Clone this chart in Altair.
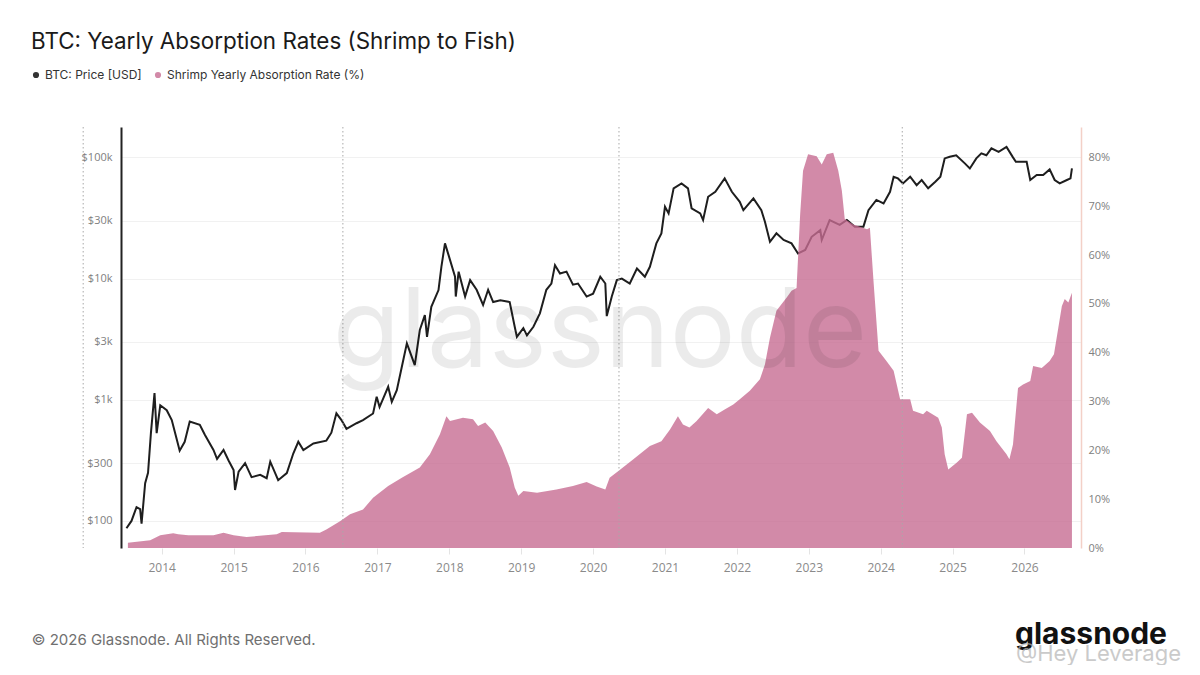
import altair as alt
import pandas as pd

# ---------------- data ----------------
price_year = [2013.51, 2013.58, 2013.65, 2013.70, 2013.72, 2013.77, 2013.81, 2013.85, 2013.90, 2013.93,
              2013.98, 2014.07, 2014.14, 2014.21, 2014.25, 2014.32, 2014.39, 2014.53, 2014.60, 2014.72,
              2014.77, 2014.86, 2014.93, 2015.00, 2015.02, 2015.07, 2015.16, 2015.25, 2015.37, 2015.46,
              2015.51, 2015.62, 2015.74, 2015.83, 2015.90, 2015.97, 2016.11, 2016.29, 2016.36, 2016.43,
              2016.50, 2016.57, 2016.71, 2016.80, 2016.94, 2016.99, 2017.03, 2017.15, 2017.20, 2017.27,
              2017.34, 2017.41, 2017.52, 2017.59, 2017.66, 2017.69, 2017.75, 2017.85, 2017.89, 2017.94,
              2017.99, 2018.08, 2018.09, 2018.13, 2018.22, 2018.29, 2018.38, 2018.47, 2018.54, 2018.61,
              2018.71, 2018.84, 2018.91, 2018.94, 2019.03, 2019.08, 2019.17, 2019.26, 2019.35, 2019.42,
              2019.47, 2019.54, 2019.63, 2019.72, 2019.79, 2019.91, 2020.00, 2020.10, 2020.17, 2020.19,
              2020.26, 2020.33, 2020.40, 2020.51, 2020.61, 2020.72, 2020.79, 2020.88, 2020.95, 2021.00,
              2021.05, 2021.12, 2021.23, 2021.32, 2021.37, 2021.49, 2021.53, 2021.60, 2021.70, 2021.83,
              2021.93, 2022.04, 2022.09, 2022.23, 2022.34, 2022.39, 2022.46, 2022.55, 2022.65, 2022.76,
              2022.85, 2022.95, 2023.04, 2023.16, 2023.18, 2023.29, 2023.43, 2023.53, 2023.64, 2023.76,
              2023.83, 2023.94, 2024.04, 2024.13, 2024.18, 2024.24, 2024.31, 2024.41, 2024.50, 2024.57,
              2024.66, 2024.76, 2024.83, 2024.89, 2024.96, 2025.05, 2025.17, 2025.24, 2025.33, 2025.40,
              2025.47, 2025.54, 2025.64, 2025.75, 2025.84, 2025.88, 2026.03, 2026.08, 2026.17, 2026.26,
              2026.35, 2026.42, 2026.49, 2026.59, 2026.64, 2026.66]
price_usd = [87, 100, 130, 125, 95, 205, 250, 530, 1135, 530,
             900, 820, 680, 470, 380, 450, 660, 620, 515, 385,
             325, 385, 315, 263, 180, 255, 300, 230, 240, 225,
             308, 217, 248, 360, 450, 385, 436, 460, 535, 772,
             680, 575, 640, 680, 770, 1060, 870, 1280, 960, 1200,
             1870, 2920, 1930, 3760, 4990, 3300, 5850, 8040, 12500, 19500,
             15600, 10350, 7100, 11400, 7100, 9700, 8080, 6050, 8080, 6400,
             6630, 6400, 4000, 3300, 3900, 3400, 4000, 5160, 8080, 9100,
             12900, 11000, 11400, 8900, 9100, 7100, 7500, 10350, 9100, 4900,
             7100, 9700, 10000, 9100, 12100, 10350, 12500, 19500, 23600, 39100,
             34500, 55500, 61000, 55500, 38000, 34500, 30400, 47300, 52000, 67100,
             52000, 43000, 36700, 45900, 36700, 29400, 20100, 23600, 20800, 19500,
             16100, 17200, 22100, 25100, 20800, 30400, 27700, 30400, 26800, 26800,
             36700, 44500, 41700, 52000, 69200, 67000, 61000, 69200, 59000, 65000,
             55500, 63000, 69200, 98000, 101000, 104000, 89200, 81000, 98000, 108000,
             104000, 118600, 111000, 122000, 100000, 92000, 92000, 65000, 71500, 71500,
             79500, 65000, 61000, 65000, 67000, 81000]

rate_year = [2013.53, 2013.84, 2013.98, 2014.16, 2014.23, 2014.37, 2014.72, 2014.86, 2015.00, 2015.18,
             2015.60, 2015.67, 2016.20, 2016.29, 2016.48, 2016.62, 2016.80, 2016.94, 2017.15, 2017.34,
             2017.59, 2017.73, 2017.87, 2017.96, 2018.01, 2018.19, 2018.33, 2018.40, 2018.50, 2018.61,
             2018.73, 2018.84, 2018.91, 2018.96, 2019.03, 2019.22, 2019.49, 2019.72, 2019.91, 2020.05,
             2020.17, 2020.23, 2020.37, 2020.56, 2020.79, 2020.95, 2021.07, 2021.18, 2021.25, 2021.34,
             2021.44, 2021.60, 2021.72, 2021.83, 2021.95, 2022.04, 2022.18, 2022.32, 2022.39, 2022.46,
             2022.55, 2022.69, 2022.76, 2022.83, 2022.88, 2022.92, 2022.99, 2023.11, 2023.18, 2023.25,
             2023.34, 2023.41, 2023.46, 2023.50, 2023.62, 2023.81, 2023.85, 2023.90, 2023.97, 2024.08,
             2024.18, 2024.27, 2024.41, 2024.45, 2024.59, 2024.64, 2024.80, 2024.85, 2024.89, 2024.94,
             2025.06, 2025.13, 2025.20, 2025.27, 2025.38, 2025.52, 2025.61, 2025.75, 2025.79, 2025.84,
             2025.91, 2025.98, 2026.08, 2026.12, 2026.24, 2026.35, 2026.41, 2026.47, 2026.52, 2026.56,
             2026.61, 2026.66]
rate_pct = [1.1, 1.6, 2.6, 3.0, 2.8, 2.6, 2.6, 3.1, 2.6, 2.25,
            2.8, 3.3, 3.1, 3.8, 5.5, 6.9, 7.9, 10.3, 12.7, 14.4,
            16.5, 19.2, 23.3, 27.0, 26.0, 26.7, 26.4, 25.0, 25.7, 24.0,
            20.6, 16.5, 12.4, 10.7, 11.7, 11.3, 12.0, 12.7, 13.5, 12.6,
            12.0, 14.4, 16.0, 18.2, 20.9, 21.9, 24.3, 27.0, 25.3, 24.7,
            26.0, 28.7, 27.4, 28.4, 29.4, 30.5, 32.2, 34.6, 37.6, 43.1,
            48.6, 51.3, 52.7, 53.3, 68.4, 77.3, 80.7, 80.3, 78.6, 80.7,
            81.0, 77.3, 73.2, 67.4, 66.3, 65.3, 65.6, 54.7, 40.4, 38.3,
            36.3, 30.5, 30.5, 28.1, 27.4, 28.1, 26.7, 24.7, 19.2, 16.1,
            17.5, 18.5, 27.4, 27.7, 25.7, 24.0, 21.9, 19.2, 18.2, 21.2,
            32.8, 33.5, 34.2, 37.3, 36.9, 38.3, 39.7, 45.1, 49.6, 51.0,
            50.3, 52.3]

halving_year = [2012.908, 2016.52, 2020.36, 2024.30]

series_names = ["BTC: Price [USD]", "Shrimp Yearly Absorption Rate (%)"]
series_colors = ["#000000", "#c76d92"]

year_ticks = list(range(2014, 2027))
price_ticks = [100, 300, 1000, 3000, 10000, 30000, 100000]
rate_ticks = [0, 10, 20, 30, 40, 50, 60, 70, 80]

title_text = "BTC: Yearly Absorption Rates (Shrimp to Fish)"
footer_text = "\u00a9 2026 Glassnode. All Rights Reserved."
logo_text = "glassnode"
repost_text = "@Hey Leverage"

# ---------------- frames ----------------
price_df = pd.DataFrame({"year": price_year, "price": price_usd})
rate_df = pd.DataFrame({"year": rate_year, "rate": rate_pct, "series": series_names[1]})
halving_df = pd.DataFrame({"year": halving_year})

W, H = 960, 421
X_DOMAIN = [2013.434, 2026.786]
LABEL_FONT = "Open Sans"

x_scale = alt.Scale(domain=X_DOMAIN, nice=False, zero=False)
x_enc = alt.X(
    "year:Q", scale=x_scale, title=None,
    axis=alt.Axis(values=year_ticks, format="d", grid=False, domain=False,
                  ticks=True, tickColor="#e4e4e4", tickSize=6, labelPadding=8,
                  labelFont=LABEL_FONT, labelFontSize=12, labelColor="#8a8a8a"),
)

price_line = alt.Chart(price_df).mark_line(color="#1e1e1e", strokeWidth=2).encode(
    x=x_enc,
    y=alt.Y("price:Q", title=None,
            scale=alt.Scale(type="log", domain=[59.8, 178000], nice=False),
            axis=alt.Axis(orient="left", values=price_ticks,
                          labelExpr="datum.value >= 1000 ? '$' + (datum.value / 1000) + 'k' : '$' + datum.value",
                          domain=True, domainColor="#222222", domainWidth=2,
                          ticks=False, labelPadding=9, grid=True, gridColor="#f1f1f1",
                          labelFont=LABEL_FONT, labelFontSize=11, labelColor="#808080")),
)

rate_area = alt.Chart(rate_df).mark_area(opacity=0.8).encode(
    x=alt.X("year:Q", scale=x_scale, title=None),
    y=alt.Y("rate:Q", title=None,
            scale=alt.Scale(domain=[0, 86.27], nice=False),
            axis=alt.Axis(orient="right", values=rate_ticks,
                          labelExpr="datum.value + '%'",
                          domain=True, domainColor="#f3d0c7", domainWidth=1.5,
                          ticks=False, labelPadding=7, grid=False,
                          labelFont=LABEL_FONT, labelFontSize=11, labelColor="#808080")),
    color=alt.Color("series:N",
                    scale=alt.Scale(domain=series_names, range=series_colors),
                    legend=alt.Legend(title=None, orient="none", legendX=-91, legendY=-58,
                                      direction="horizontal", symbolType="circle",
                                      symbolSize=38, symbolOpacity=0.8, symbolStrokeWidth=0,
                                      labelFont="Inter", labelFontSize=12, labelColor="#333333",
                                      labelOffset=3, columnPadding=10, labelLimit=0)),
)

halving_rules = alt.Chart(halving_df).mark_rule(
    color="#a8a8a8", strokeWidth=1, strokeDash=[1.5, 2.5]
).encode(x=alt.X("year:Q", scale=x_scale, title=None))

watermark = alt.Chart(pd.DataFrame({"t": [logo_text]})).mark_text(
    font="Inter", fontSize=110, fontWeight=400, color="#000000", opacity=0.075,
    align="center", baseline="alphabetic"
).encode(text="t:N", x=alt.value(479), y=alt.value(240))

title_mark = alt.Chart(pd.DataFrame({"t": [title_text]})).mark_text(
    font="Inter", fontSize=22.4, fontWeight=400, color="#1a1a1a",
    align="left", baseline="alphabetic"
).encode(text="t:N", x=alt.value(-90), y=alt.value(-77.7))

footer_mark = alt.Chart(pd.DataFrame({"t": [footer_text]})).mark_text(
    font="Inter", fontSize=15, color="#707070", align="left", baseline="alphabetic"
).encode(text="t:N", x=alt.value(-89.3), y=alt.value(518))

logo_mark = alt.Chart(pd.DataFrame({"t": [logo_text]})).mark_text(
    font="Inter", fontSize=30, fontWeight=700, color="#111111", align="right", baseline="alphabetic"
).encode(text="t:N", x=alt.value(1046), y=alt.value(517))

repost_mark = alt.Chart(pd.DataFrame({"t": [repost_text]})).mark_text(
    font="Inter", fontSize=22, color="#b5b5b5", opacity=0.7, align="right", baseline="alphabetic"
).encode(text="t:N", x=alt.value(1060), y=alt.value(534))

chart = alt.layer(
    price_line, rate_area, halving_rules, watermark,
    title_mark, footer_mark, logo_mark, repost_mark
).resolve_scale(y="independent").properties(
    width=W, height=H,
    background="#ffffff",
    autosize=alt.AutoSizeParams(type="none"),
    padding={"left": 113, "top": 119, "right": 111, "bottom": 117},
).configure_view(strokeWidth=0)

chart.save("out.html", embed_options={"renderer": "svg", "actions": False})
